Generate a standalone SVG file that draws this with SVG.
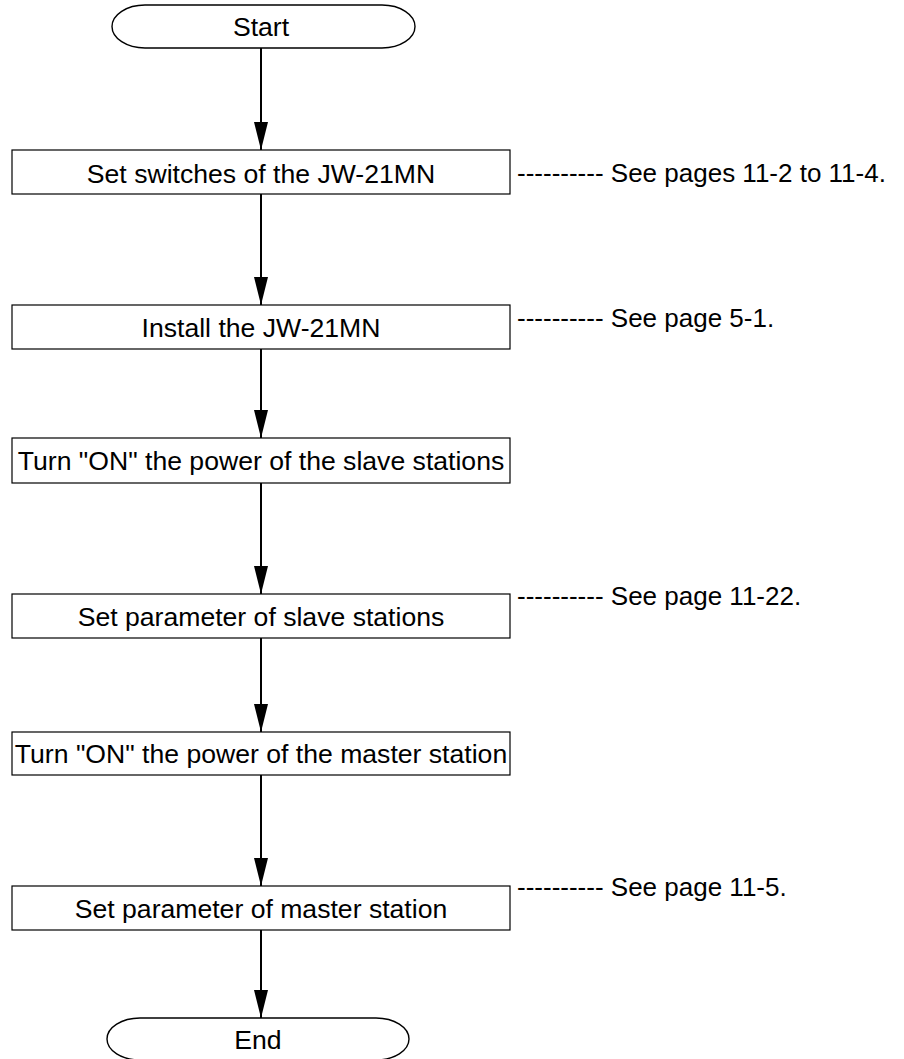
<svg xmlns="http://www.w3.org/2000/svg" width="904" height="1059" viewBox="0 0 904 1059">
<style>
.box{fill:#fff;stroke:#000;stroke-width:1.2}
.term{fill:#fff;stroke:#000;stroke-width:1.4}
.t{font-family:"Liberation Sans",Arial,sans-serif;font-size:26.6px;fill:#000;text-anchor:middle}
.a{font-family:"Liberation Sans",Arial,sans-serif;font-size:26px;fill:#000}
.c{stroke:#000;stroke-width:2;fill:none;marker-end:url(#ah)}
</style>
<defs>
<marker id="ah" markerUnits="userSpaceOnUse" markerWidth="28" markerHeight="14" refX="28" refY="7" orient="auto" viewBox="0 0 28 14">
<path d="M0,0 L28,7 L0,14 Z" fill="#000"/>
</marker>
</defs>
<g id="connectors">
<path class="c" d="M261,48 V150"/>
<path class="c" d="M261,194 V305"/>
<path class="c" d="M261,349 V438"/>
<path class="c" d="M261,483 V594"/>
<path class="c" d="M261,638 V732"/>
<path class="c" d="M261,775 V886"/>
<path class="c" d="M261,930 V1018"/>
</g>
<g id="start">
<path class="term" d="M145,5 H382 A33,21.5 0 0 1 382,48 H145 A33,21.5 0 0 1 145,5 Z"/>
<text class="t" x="261" y="36">Start</text>
</g>
<g id="step1">
<rect class="box" x="12" y="150" width="498" height="44"/>
<text class="t" x="261" y="182.5">Set switches of the JW-21MN</text>
</g>
<g id="note1"><text class="a" x="517" y="182">---------- See pages 11-2 to 11-4.</text></g>
<g id="step2">
<rect class="box" x="12" y="305" width="498" height="44"/>
<text class="t" x="261" y="336.5">Install the JW-21MN</text>
</g>
<g id="note2"><text class="a" x="517" y="327">---------- See page 5-1.</text></g>
<g id="step3">
<rect class="box" x="12" y="438" width="498" height="45"/>
<text class="t" x="261" y="470">Turn "ON" the power of the slave stations</text>
</g>
<g id="step4">
<rect class="box" x="12" y="594" width="498" height="44"/>
<text class="t" x="261" y="625.5">Set parameter of slave stations</text>
</g>
<g id="note4"><text class="a" x="517" y="605">---------- See page 11-22.</text></g>
<g id="step5">
<rect class="box" x="12" y="732" width="498" height="43"/>
<text class="t" x="261" y="763">Turn "ON" the power of the master station</text>
</g>
<g id="step6">
<rect class="box" x="12" y="886" width="498" height="44"/>
<text class="t" x="261" y="917.5">Set parameter of master station</text>
</g>
<g id="note6"><text class="a" x="517" y="896">---------- See page 11-5.</text></g>
<g id="end">
<path class="term" d="M140,1018 H376 A33,21 0 0 1 376,1060 H140 A33,21 0 0 1 140,1018 Z"/>
<text class="t" x="258" y="1049">End</text>
</g>
</svg>
